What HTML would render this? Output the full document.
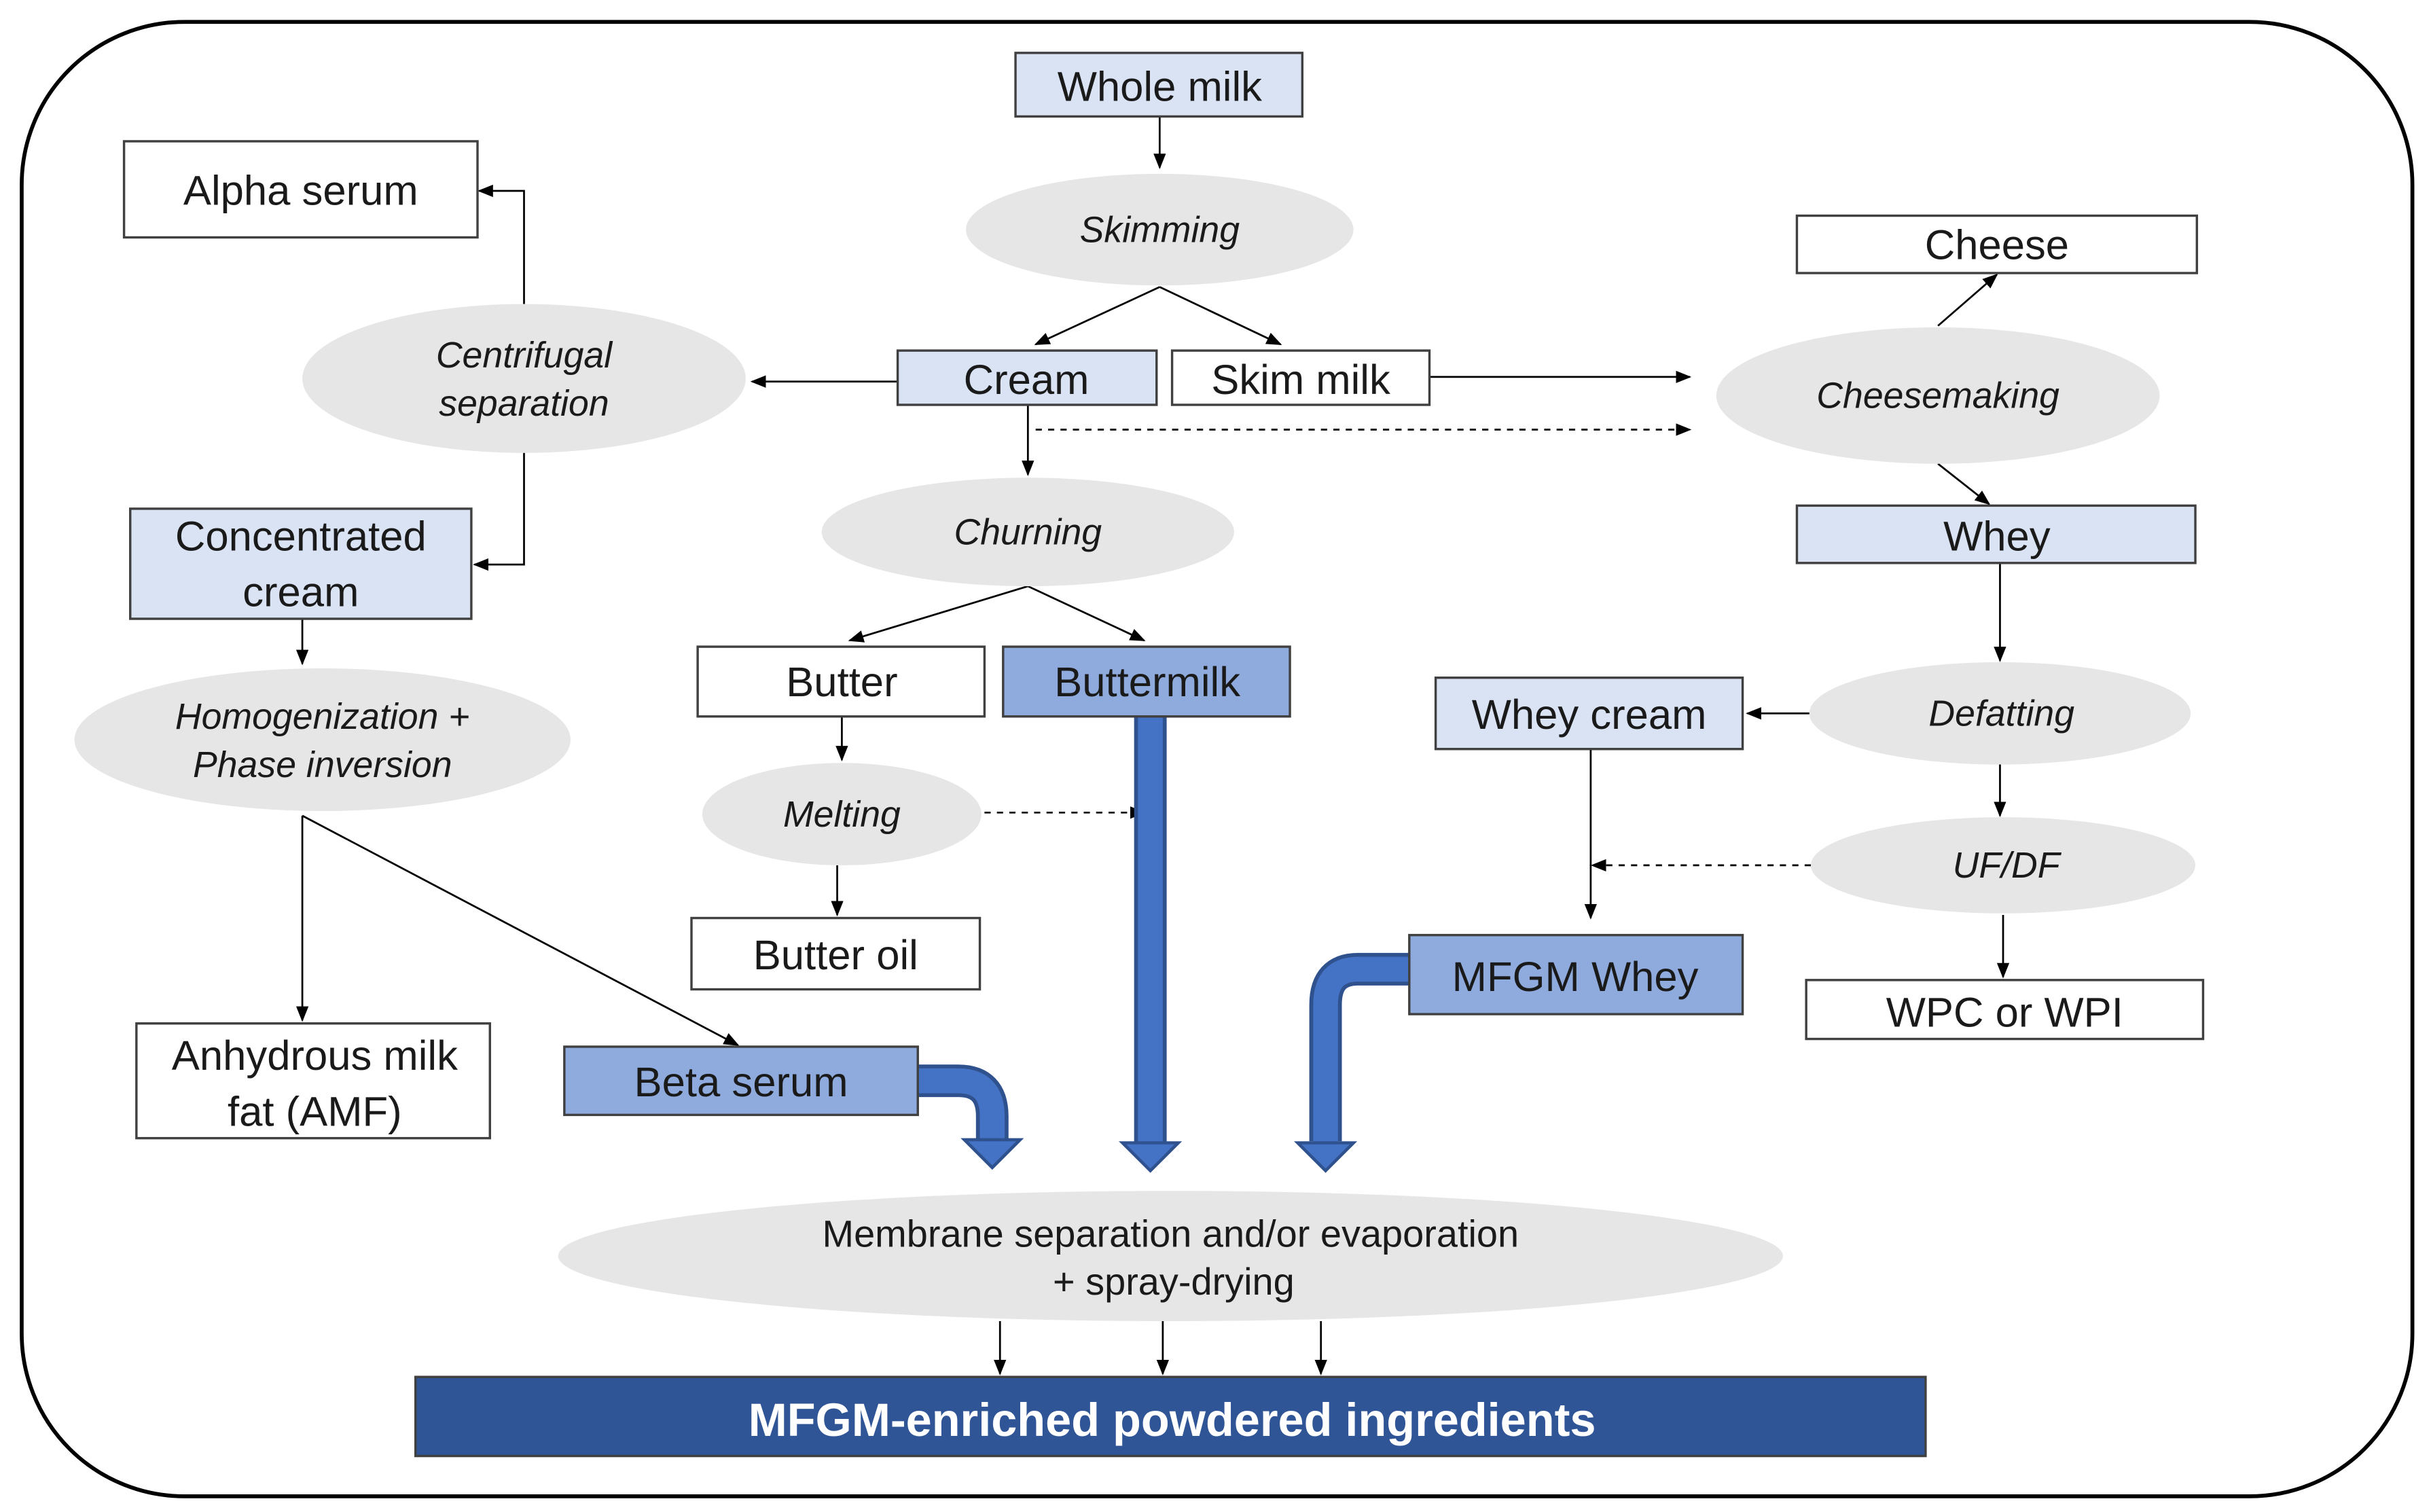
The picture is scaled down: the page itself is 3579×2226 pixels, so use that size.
<!DOCTYPE html>
<html><head><meta charset="utf-8"><style>
html,body{margin:0;padding:0;background:#fff;}
svg{display:block;}
text{font-family:"Liberation Sans",sans-serif;fill:#1a1a1a;}
.b{font-size:27px;}
.i{font-size:23.5px;font-style:italic;}
</style></head><body>
<svg width="3579" height="2226" viewBox="0 0 1568 975" xmlns="http://www.w3.org/2000/svg">
<defs>
<marker id="a" markerWidth="10" markerHeight="10" refX="9" refY="5" orient="auto" markerUnits="userSpaceOnUse">
<path d="M0,1 L10,5 L0,9 z" fill="#000"/></marker>
</defs>
<rect x="14" y="14" width="1542" height="951" rx="105" fill="#fff" stroke="#000" stroke-width="2.5"/>
<g stroke="#000" stroke-width="1.2" fill="none">
<line x1="748" y1="75" x2="748" y2="108" marker-end="url(#a)"/>
<line x1="748" y1="185" x2="668" y2="222" marker-end="url(#a)"/>
<line x1="748" y1="185" x2="826" y2="222" marker-end="url(#a)"/>
<line x1="579" y1="246" x2="485" y2="246" marker-end="url(#a)"/>
<line x1="922" y1="243" x2="1090" y2="243" marker-end="url(#a)"/>
<line x1="668" y1="277" x2="1090" y2="277" stroke-dasharray="4,4" marker-end="url(#a)"/>
<line x1="663" y1="261" x2="663" y2="306" marker-end="url(#a)"/>
<polyline points="338,196 338,123 309,123" marker-end="url(#a)"/>
<polyline points="338,292 338,364 306,364" marker-end="url(#a)"/>
<line x1="195" y1="399" x2="195" y2="428" marker-end="url(#a)"/>
<line x1="195" y1="526" x2="195" y2="658" marker-end="url(#a)"/>
<line x1="195" y1="526" x2="476" y2="674" marker-end="url(#a)"/>
<line x1="663" y1="378" x2="548" y2="413" marker-end="url(#a)"/>
<line x1="663" y1="378" x2="738" y2="413" marker-end="url(#a)"/>
<line x1="543" y1="462" x2="543" y2="490" marker-end="url(#a)"/>
<line x1="635" y1="524" x2="738" y2="524" stroke-dasharray="4,4" marker-end="url(#a)"/>
<line x1="540" y1="558" x2="540" y2="590" marker-end="url(#a)"/>
<line x1="1250" y1="210" x2="1288" y2="177" marker-end="url(#a)"/>
<line x1="1250" y1="299" x2="1283" y2="325" marker-end="url(#a)"/>
<line x1="1290" y1="363" x2="1290" y2="426" marker-end="url(#a)"/>
<line x1="1168" y1="460" x2="1127" y2="460" marker-end="url(#a)"/>
<line x1="1290" y1="493" x2="1290" y2="526" marker-end="url(#a)"/>
<line x1="1168" y1="558" x2="1027" y2="558" stroke-dasharray="4,4" marker-end="url(#a)"/>
<line x1="1026" y1="483" x2="1026" y2="592" marker-end="url(#a)"/>
<line x1="1292" y1="590" x2="1292" y2="630" marker-end="url(#a)"/>
<line x1="645" y1="852" x2="645" y2="886" marker-end="url(#a)"/>
<line x1="750" y1="852" x2="750" y2="886" marker-end="url(#a)"/>
<line x1="852" y1="852" x2="852" y2="886" marker-end="url(#a)"/>
</g>
<g fill="#e6e6e6">
<ellipse cx="748" cy="148" rx="125" ry="36"/>
<ellipse cx="338" cy="244" rx="143" ry="48"/>
<ellipse cx="208" cy="477" rx="160" ry="46"/>
<ellipse cx="663" cy="343" rx="133" ry="35"/>
<ellipse cx="543" cy="525" rx="90" ry="33"/>
<ellipse cx="1250" cy="255" rx="143" ry="44"/>
<ellipse cx="1290" cy="460" rx="123" ry="33"/>
<ellipse cx="1292" cy="558" rx="124" ry="31"/>
<ellipse cx="755" cy="810" rx="395" ry="42"/>
</g>
<g fill="none" stroke-linejoin="round">
<path d="M742,462 L742,738" stroke="#2f528f" stroke-width="21"/>
<path d="M742,462 L742,740" stroke="#4472c4" stroke-width="16"/>
<path d="M592,697 L618,697 Q640,697 640,720 L640,736" stroke="#2f528f" stroke-width="21"/>
<path d="M592,697 L618,697 Q640,697 640,720 L640,738" stroke="#4472c4" stroke-width="16"/>
<path d="M909,625 L876,625 Q855,625 855,648 L855,736" stroke="#2f528f" stroke-width="21"/>
<path d="M909,625 L876,625 Q855,625 855,648 L855,738" stroke="#4472c4" stroke-width="16"/>
</g>
<g fill="#4472c4" stroke="#2f528f" stroke-width="2">
<polygon points="724,737 760,737 742,755"/>
<polygon points="622,735 658,735 640,753"/>
<polygon points="837,737 873,737 855,755"/>
</g>
<g stroke="#404040" stroke-width="1.5">
<rect x="655" y="34" width="185" height="41" fill="#dae3f3"/>
<rect x="579" y="226" width="167" height="35" fill="#dae3f3"/>
<rect x="756" y="226" width="166" height="35" fill="#fff"/>
<rect x="80" y="91" width="228" height="62" fill="#fff"/>
<rect x="84" y="328" width="220" height="71" fill="#dae3f3"/>
<rect x="88" y="660" width="228" height="74" fill="#fff"/>
<rect x="364" y="675" width="228" height="44" fill="#8faadc"/>
<rect x="450" y="417" width="185" height="45" fill="#fff"/>
<rect x="647" y="417" width="185" height="45" fill="#8faadc"/>
<rect x="446" y="592" width="186" height="46" fill="#fff"/>
<rect x="1159" y="139" width="258" height="37" fill="#fff"/>
<rect x="1159" y="326" width="257" height="37" fill="#dae3f3"/>
<rect x="926" y="437" width="198" height="46" fill="#dae3f3"/>
<rect x="909" y="603" width="215" height="51" fill="#8faadc"/>
<rect x="1165" y="632" width="256" height="38" fill="#fff"/>
<rect x="268" y="888" width="974" height="51" fill="#2f5597"/>
</g>
<g class="b" text-anchor="middle">
<text x="748" y="65">Whole milk</text>
<text x="662" y="254">Cream</text>
<text x="839" y="254">Skim milk</text>
<text x="194" y="132">Alpha serum</text>
<text x="194" y="355">Concentrated</text>
<text x="194" y="391">cream</text>
<text x="203" y="690">Anhydrous milk</text>
<text x="203" y="726">fat (AMF)</text>
<text x="478" y="707">Beta serum</text>
<text x="543" y="449">Butter</text>
<text x="740" y="449">Buttermilk</text>
<text x="539" y="625">Butter oil</text>
<text x="1288" y="167">Cheese</text>
<text x="1288" y="355">Whey</text>
<text x="1025" y="470">Whey cream</text>
<text x="1016" y="639">MFGM Whey</text>
<text x="1293" y="662">WPC or WPI</text>
</g>
<g class="i" text-anchor="middle">
<text x="748" y="156">Skimming</text>
<text x="338" y="237">Centrifugal</text>
<text x="338" y="268">separation</text>
<text x="208" y="470">Homogenization +</text>
<text x="208" y="501">Phase inversion</text>
<text x="663" y="351">Churning</text>
<text x="543" y="533">Melting</text>
<text x="1250" y="263">Cheesemaking</text>
<text x="1291" y="468">Defatting</text>
<text x="1294" y="566">UF/DF</text>
</g>
<g text-anchor="middle" style="font-size:24.5px">
<text x="755" y="804">Membrane separation and/or evaporation</text>
<text x="757" y="835">+ spray-drying</text>
</g>
<text x="756" y="926" text-anchor="middle" style="font-size:30px;font-weight:bold;fill:#fff">MFGM-enriched powdered ingredients</text>
</svg>
</body></html>
